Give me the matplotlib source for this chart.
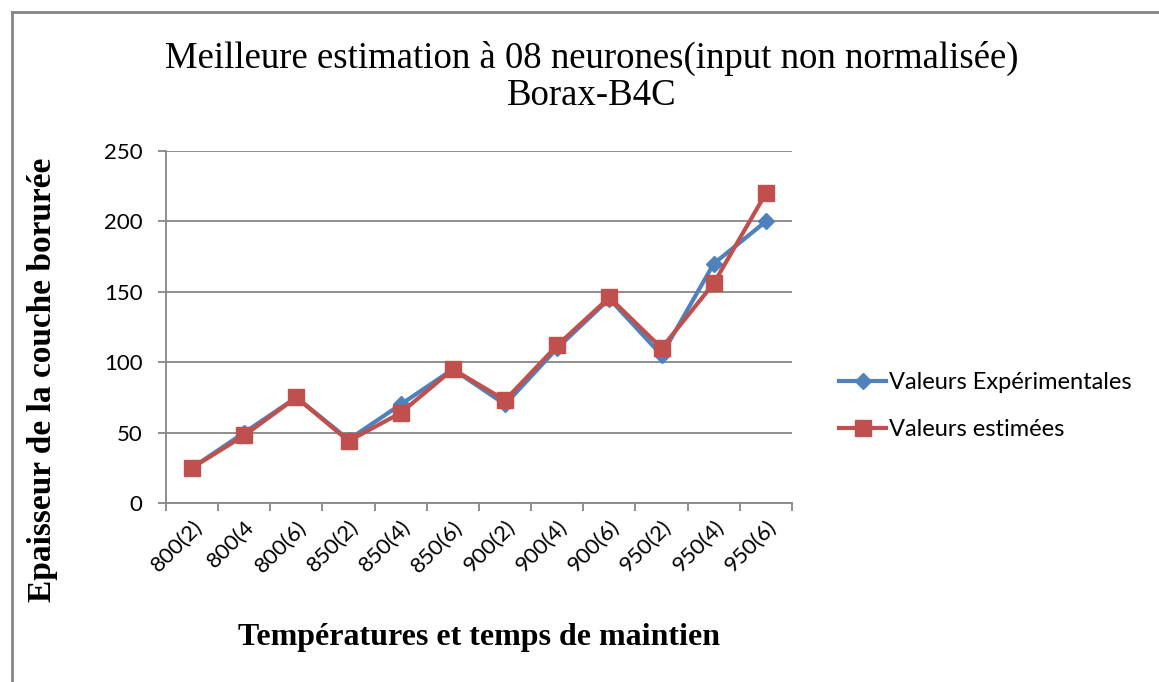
import matplotlib
matplotlib.use("Agg")
import matplotlib.pyplot as plt
from matplotlib.lines import Line2D

categories = ["800(2)", "800(4", "800(6)", "850(2)", "850(4)", "850(6)",
              "900(2)", "900(4)", "900(6)", "950(2)", "950(4)", "950(6)"]
experimentales = [25, 50, 75, 45, 70, 95, 70, 110, 145, 105, 170, 200]
estimees = [25, 48, 75, 44, 64, 95, 73, 112, 146, 110, 156, 220]

blue = "#4F81BD"
red = "#C0504D"
grid_gray = "#868686"

fig = plt.figure(figsize=(11.59, 6.82), dpi=100)
ax = fig.add_axes([166/1159, 1-503/682, (792-166)/1159, (503-151)/682])

x = list(range(len(categories)))
ax.plot(x, experimentales, color=blue, lw=3, marker="D", ms=8,
        label="Valeurs Expérimentales", zorder=3)
ax.plot(x, estimees, color=red, lw=3, marker="s", ms=12,
        label="Valeurs estimées", zorder=4)

ax.set_xlim(-0.5, len(categories) - 0.5)
ax.set_ylim(0, 250)
ax.set_yticks([0, 50, 100, 150, 200, 250])
ax.yaxis.grid(True, color=grid_gray, lw=1.3)
ax.set_axisbelow(True)

# ticks sit between categories, labels under the centers
ax.set_xticks([i - 0.5 for i in range(len(categories) + 1)])
ax.set_xticklabels([])
ax.set_xticks(x, minor=True)
ax.set_xticklabels(categories, minor=True, rotation=45, ha="right",
                   rotation_mode="anchor", fontsize=16, family="Lato")
ax.tick_params(axis="x", which="minor", length=0, pad=10)
ax.tick_params(axis="x", which="major", length=6, color=grid_gray, width=1.3)
ax.tick_params(axis="y", length=6, color=grid_gray, width=1.3, labelsize=16, pad=11)
for lab in ax.get_yticklabels():
    lab.set_family("Lato")

for s in ["top", "right"]:
    ax.spines[s].set_visible(False)
for s in ["left", "bottom"]:
    ax.spines[s].set_color(grid_gray)
    ax.spines[s].set_linewidth(1.3)

fig.text(592/1159, 1-58/682, "Meilleure estimation à 08 neurones(input non normalisée)",
         ha="center", va="center", fontsize=26.5, family="Liberation Serif")
fig.text(592/1159, 1-96/682, "Borax-B4C",
         ha="center", va="center", fontsize=26.5, family="Liberation Serif")
fig.text(479/1159, 1-637/682, "Températures et temps de maintien",
         ha="center", va="center", fontsize=23, fontweight="bold", family="Liberation Serif")
fig.text(43/1159, 1-380/682, "Epaisseur de la couche borurée",
         ha="center", va="center", rotation=90, fontsize=24, fontweight="bold",
         family="Liberation Serif")

handles = [Line2D([], [], color=blue, lw=3, marker="D", ms=8),
           Line2D([], [], color=red, lw=3, marker="s", ms=12)]
leg = fig.legend(handles, ["Valeurs Expérimentales", "Valeurs estimées"],
                 loc="center left", bbox_to_anchor=(818/1159, 1-406/682),
                 frameon=False, prop={"family": "Lato", "size": 17},
                 handlelength=2.0, handletextpad=0.1, labelspacing=1.1)

# outer frame of the chart
fig.add_artist(Line2D([12/1159, 12/1159], [0, 1-12/682], color=grid_gray, lw=2))
fig.add_artist(Line2D([12/1159, 1], [1-12/682, 1-12/682], color=grid_gray, lw=2))

fig.savefig("out.png", dpi=100)
